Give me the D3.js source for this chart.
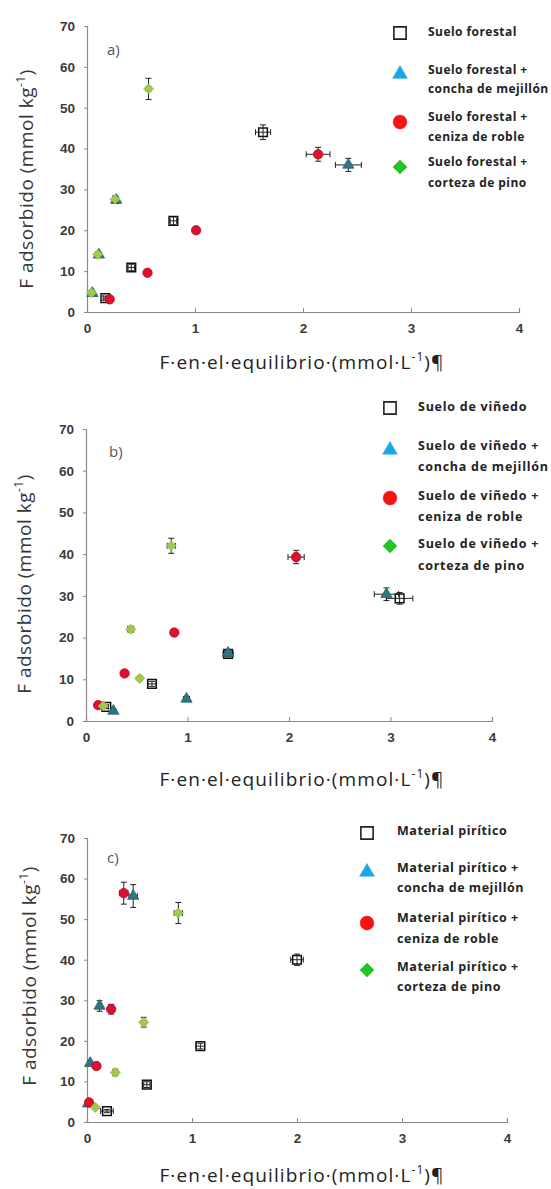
<!DOCTYPE html>
<html>
<head>
<meta charset="utf-8">
<script src="https://cdn.jsdelivr.net/npm/d3@7"></script>
<style>
  html, body { margin: 0; padding: 0; background: #fff; }
  svg { display: block; }
</style>
</head>
<body>
<svg id="chart" width="551" height="1189"></svg>
<script>
// Axis ticks shared by the three panels
const xTicks = [0, 1, 2, 3, 4];
const yTicks = [0, 10, 20, 30, 40, 50, 60, 70];

// Each point: [F equilibrio, F adsorbido, error x, error y]
// a) Suelo forestal
const forestalSuelo   = [[0.17, 3.4, 0.02, 0.5], [0.41, 10.9, 0.03, 0.8], [0.80, 22.3, 0.03, 1.0], [1.63, 44.0, 0.07, 1.8]];
const forestalConcha  = [[0.05, 4.6, 0.01, 0.4], [0.11, 14.0, 0.01, 0.6], [0.27, 27.4, 0.02, 0.8], [2.42, 36.0, 0.12, 1.6]];
const forestalCeniza  = [[0.21, 3.1, 0.02, 0.4], [0.56, 9.6, 0.02, 0.5], [1.01, 20.0, 0.02, 0.6], [2.14, 38.6, 0.11, 1.7]];
const forestalCorteza = [[0.04, 4.7, 0.01, 0.4], [0.10, 14.1, 0.01, 0.6], [0.26, 27.6, 0.02, 0.8], [0.57, 54.6, 0.02, 2.6]];

// b) Suelo de viñedo
const vinedoSuelo   = [[0.20, 3.4, 0.02, 0.4], [0.65, 8.9, 0.04, 0.6], [1.40, 16.1, 0.05, 0.7], [3.09, 29.4, 0.13, 1.4]];
const vinedoConcha  = [[0.27, 2.4, 0.02, 0.3], [0.99, 5.3, 0.03, 0.5], [1.40, 16.3, 0.04, 0.6], [2.96, 30.4, 0.12, 1.5]];
const vinedoCeniza  = [[0.12, 3.8, 0.02, 0.4], [0.38, 11.4, 0.02, 0.5], [0.87, 21.2, 0.02, 0.6], [2.07, 39.3, 0.08, 1.6]];
const vinedoCorteza = [[0.17, 3.6, 0.02, 0.4], [0.53, 10.2, 0.02, 0.5], [0.44, 22.0, 0.03, 0.7], [0.84, 42.0, 0.04, 1.8]];

// c) Material pirítico
const piriticoSuelo   = [[0.19, 2.7, 0.06, 0.4], [0.57, 9.2, 0.03, 0.7], [1.08, 18.7, 0.04, 0.7], [2.00, 40.0, 0.06, 1.4]];
const piriticoConcha  = [[0.01, 4.5, 0.01, 0.5], [0.03, 14.5, 0.01, 0.6], [0.12, 28.6, 0.02, 1.3], [0.44, 55.7, 0.04, 2.8]];
const piriticoCeniza  = [[0.02, 4.8, 0.01, 0.5], [0.09, 13.8, 0.02, 0.6], [0.23, 27.8, 0.02, 1.2], [0.35, 56.4, 0.04, 2.7]];
const piriticoCorteza = [[0.08, 3.6, 0.01, 0.4], [0.27, 12.2, 0.02, 0.8], [0.54, 24.6, 0.02, 1.2], [0.87, 51.5, 0.04, 2.6]];

// Legend entries (one line or two lines each)
const forestalNames = [["Suelo forestal"], ["Suelo forestal +", "concha de mejillón"], ["Suelo forestal +", "ceniza de roble"], ["Suelo forestal +", "corteza de pino"]];
const vinedoNames   = [["Suelo de viñedo"], ["Suelo de viñedo +", "concha de mejillón"], ["Suelo de viñedo +", "ceniza de roble"], ["Suelo de viñedo +", "corteza de pino"]];
const piriticoNames = [["Material pirítico"], ["Material pirítico +", "concha de mejillón"], ["Material pirítico +", "ceniza de roble"], ["Material pirítico +", "corteza de pino"]];

// Marker styles: plot marks and legend marks (diamond = square turned 45°)
const markerStyles = [
  { type: d3.symbolSquare,   rot: 0,  size: 75, lsize: 150, fill: "none",    stroke: "#111",    legendFill: "#fff",    legendStroke: "#222" },
  { type: d3.symbolTriangle, rot: 0,  size: 55, lsize: 95,  fill: "#2f7683", stroke: "#2a5f6a", legendFill: "#1ca6e6", legendStroke: "#1ca6e6" },
  { type: d3.symbolCircle,   rot: 0,  size: 70, lsize: 150, fill: "#dd1030", stroke: "#b80d28", legendFill: "#f41414", legendStroke: "#f41414" },
  { type: d3.symbolSquare,   rot: 45, size: 50, lsize: 100, fill: "#a2c84e", stroke: "#95bb44", legendFill: "#22c424", legendStroke: "#22c424" }
];

const panels = [
  { letter: "a)", series: [forestalSuelo, forestalConcha, forestalCeniza, forestalCorteza], names: forestalNames,
    xr: [87, 519], yr: [312, 26], labelX: 33, labelY: 179, titleY: 369, letterPos: [107, 55],
    legend: { mx: 400, tx: 428, rows: [[33, [33]], [74, [71, 90]], [122, [118, 138]], [167, [163, 184]]], font: 12, ls: 0.45 } },
  { letter: "b)", series: [vinedoSuelo, vinedoConcha, vinedoCeniza, vinedoCorteza], names: vinedoNames,
    xr: [86, 492], yr: [721, 429], labelX: 31, labelY: 584, titleY: 786, letterPos: [109, 457],
    legend: { mx: 390, tx: 418, rows: [[408, [408]], [450, [447, 468]], [498, [497, 518]], [546, [545, 567]]], font: 12.5, ls: 0.75 } },
  { letter: "c)", series: [piriticoSuelo, piriticoConcha, piriticoCeniza, piriticoCorteza], names: piriticoNames,
    xr: [87, 507], yr: [1122, 838], labelX: 36, labelY: 976, titleY: 1182, letterPos: [107, 863],
    legend: { mx: 367, tx: 397, rows: [[833, [832]], [872, [869, 889]], [923, [919, 940]], [970, [968, 988]]], font: 12.5, ls: 0.55 } }
];

const svg = d3.select("#chart");

panels.forEach(p => {
  const g = svg.append("g");
  const x = d3.scaleLinear().domain([0, 4]).range(p.xr);
  const y = d3.scaleLinear().domain([0, 70]).range(p.yr);

  // Axes
  const xAxis = d3.axisBottom(x).tickValues(xTicks).tickFormat(d3.format("d")).tickSize(-4).tickPadding(11);
  const yAxis = d3.axisLeft(y).tickValues(yTicks).tickFormat(d3.format("d")).tickSize(3).tickPadding(9);

  const gx = g.append("g").attr("transform", `translate(0,${p.yr[0]})`).call(xAxis);
  const gy = g.append("g").attr("transform", `translate(${p.xr[0]},0)`).call(yAxis);
  [gx, gy].forEach(ax => {
    ax.select(".domain").attr("stroke", "#8a8a8a").attr("stroke-width", 1.2);
    ax.selectAll(".tick line").attr("stroke", "#8a8a8a");
    ax.selectAll(".tick text")
      .attr("font-family", "Liberation Sans, Arial, sans-serif")
      .attr("font-weight", "bold")
      .attr("font-size", 13.5)
      .attr("fill", "#3a3a3a");
  });

  // Panel letter
  g.append("text")
    .attr("x", p.letterPos[0]).attr("y", p.letterPos[1])
    .attr("font-family", "Open Sans, sans-serif").attr("font-size", 15)
    .attr("fill", "#555").text(p.letter);

  // Y axis title
  const yt = g.append("text")
    .attr("transform", `translate(${p.labelX},${p.labelY}) rotate(-90)`)
    .attr("text-anchor", "middle")
    .attr("font-family", "Open Sans, sans-serif").attr("font-size", 19)
    .attr("letter-spacing", 0.5)
    .attr("fill", "#383838");
  yt.append("tspan").text("F adsorbido (mmol kg");
  yt.append("tspan").attr("dy", -8).attr("font-size", 12).text("-1");
  yt.append("tspan").attr("dy", 8).text(")");

  // X axis title
  const xt = g.append("text")
    .attr("x", 302).attr("y", p.titleY)
    .attr("text-anchor", "middle")
    .attr("font-family", "Open Sans, sans-serif").attr("font-size", 19)
    .attr("letter-spacing", 1.1)
    .attr("fill", "#222");
  xt.append("tspan").text("F·en·el·equilibrio·(mmol·L");
  xt.append("tspan").attr("dy", -8).attr("font-size", 12).text("-1");
  xt.append("tspan").attr("dy", 8).text(")¶");

  // Series: error bars then markers
  p.series.forEach((data, i) => {
    const st = markerStyles[i];
    const sg = g.append("g");
    const cap = 3;
    const eb = sg.selectAll("g.eb").data(data).join("g").attr("class", "eb")
      .attr("stroke", "#222").attr("stroke-width", 1);
    eb.append("line")
      .attr("x1", d => x(d[0])).attr("x2", d => x(d[0]))
      .attr("y1", d => y(d[1] - d[3])).attr("y2", d => y(d[1] + d[3]));
    eb.append("line")
      .attr("x1", d => x(d[0]) - cap).attr("x2", d => x(d[0]) + cap)
      .attr("y1", d => y(d[1] + d[3])).attr("y2", d => y(d[1] + d[3]));
    eb.append("line")
      .attr("x1", d => x(d[0]) - cap).attr("x2", d => x(d[0]) + cap)
      .attr("y1", d => y(d[1] - d[3])).attr("y2", d => y(d[1] - d[3]));
    eb.append("line")
      .attr("x1", d => x(d[0] - d[2])).attr("x2", d => x(d[0] + d[2]))
      .attr("y1", d => y(d[1])).attr("y2", d => y(d[1]));
    eb.append("line")
      .attr("x1", d => x(d[0] - d[2])).attr("x2", d => x(d[0] - d[2]))
      .attr("y1", d => y(d[1]) - cap).attr("y2", d => y(d[1]) + cap);
    eb.append("line")
      .attr("x1", d => x(d[0] + d[2])).attr("x2", d => x(d[0] + d[2]))
      .attr("y1", d => y(d[1]) - cap).attr("y2", d => y(d[1]) + cap);

    sg.selectAll("path.mk").data(data).join("path").attr("class", "mk")
      .attr("d", d3.symbol().type(st.type).size(st.size))
      .attr("transform", d => `translate(${x(d[0])},${y(d[1])}) rotate(${st.rot})`)
      .attr("fill", st.fill)
      .attr("stroke", st.stroke)
      .attr("stroke-width", i === 0 ? 1.5 : 0.8);
  });

  // Legend
  const lg = g.append("g");
  p.names.forEach((lines, i) => {
    const st = markerStyles[i];
    const row = p.legend.rows[i];
    lg.append("path")
      .attr("d", d3.symbol().type(st.type).size(st.lsize))
      .attr("transform", `translate(${p.legend.mx},${row[0]}) rotate(${st.rot})`)
      .attr("fill", st.legendFill)
      .attr("stroke", st.legendStroke)
      .attr("stroke-width", i === 0 ? 1.6 : 0.5);
    lines.forEach((t, j) => {
      lg.append("text")
        .attr("x", p.legend.tx).attr("y", row[1][j])
        .attr("dominant-baseline", "middle")
        .attr("font-family", "Open Sans, sans-serif")
        .attr("font-weight", "bold")
        .attr("font-size", p.legend.font)
        .attr("letter-spacing", p.legend.ls)
        .attr("fill", "#222")
        .text(t);
    });
  });
});
</script>
</body>
</html>
